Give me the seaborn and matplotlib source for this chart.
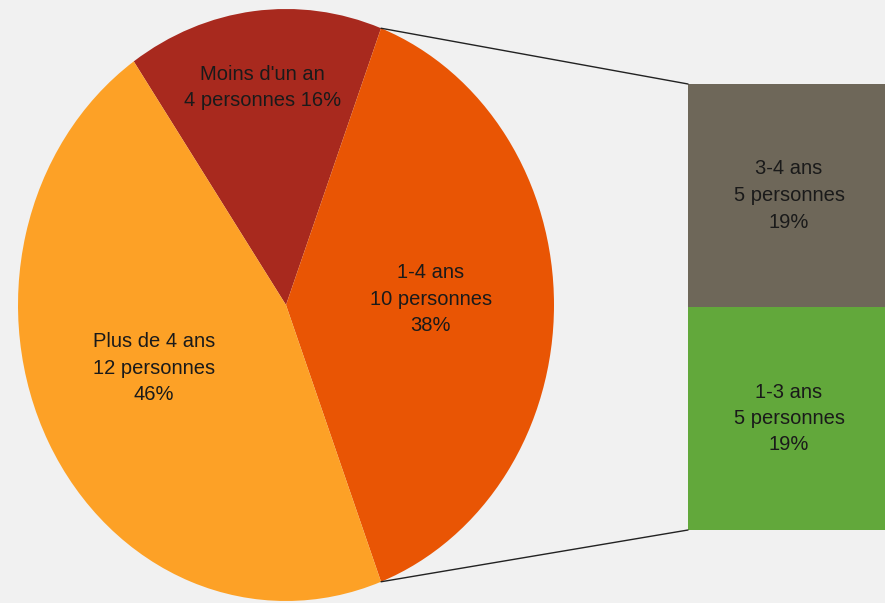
import numpy as np
import seaborn as sns
import matplotlib.pyplot as plt
from matplotlib.patches import ConnectionPatch

# pie data (people per duration)
pie_labels = ["Moins d'un an", "1-4 ans", "Plus de 4 ans"]
pie_counts = [4, 10, 12]
pie_pcts = [16, 38, 46]

# breakdown of the "1-4 ans" slice, bottom to top
bar_labels = ["1-3 ans", "3-4 ans"]
bar_counts = [5, 5]
bar_pcts = [19, 19]

pie_colors = ['#a8291e', '#e95504', '#fda126']
bar_colors = ['#62a83b', '#6e6759']
bg = '#f1f1f1'

sns.set_theme(style='white')
plt.rcParams['font.family'] = ['Liberation Sans', 'DejaVu Sans']

W, H = 885, 603
fig = plt.figure(figsize=(W / 100, H / 100), dpi=100)
fig.set_facecolor(bg)

# elliptical pie: axes not square, aspect auto
ax_pie = fig.add_axes([18 / W, 2 / H, 536 / W, 592 / H])
total = sum(pie_counts)
start = (pie_counts[0] + pie_counts[1] / 2) / total * 360
wedges, _ = ax_pie.pie(pie_counts, colors=pie_colors, startangle=start,
                       counterclock=False, radius=1,
                       wedgeprops=dict(linewidth=0))
ax_pie.set_aspect('auto')
ax_pie.set_xlim(-1, 1)
ax_pie.set_ylim(-1, 1)
ax_pie.axis('off')

txt = dict(ha='center', va='center', fontsize=14.5, color='#1a1a1a', linespacing=1.5)

# label placement: distance from centre along the mid angle, plus a small nudge
label_r = [0.74, 0.54, 0.54]
nudge = [(0, 0), (0, 0.02), (-0.015, 0.037)]
seps = [' ', '\n', '\n']
for w, lab, n, p, r, (dx, dy), sep in zip(wedges, pie_labels, pie_counts, pie_pcts,
                                          label_r, nudge, seps):
    mid = np.deg2rad((w.theta1 + w.theta2) / 2)
    ax_pie.text(r * np.cos(mid) + dx, r * np.sin(mid) + dy,
                f"{lab}\n{n} personnes{sep}{p}%", **txt)

# stacked bar of the split slice
ax_bar = fig.add_axes([688 / W, (H - 530) / H, 202 / W, 446 / H])
bottom = 0
for lab, n, p, c in zip(bar_labels, bar_counts, bar_pcts, bar_colors):
    ax_bar.bar(0.5, n, width=1, bottom=bottom, color=c, linewidth=0)
    ax_bar.text(0.5, bottom + n / 2, f"{lab}\n{n} personnes\n{p}%", **txt)
    bottom += n
ax_bar.set_xlim(0, 1)
ax_bar.set_ylim(0, sum(bar_counts))
ax_bar.axis('off')

# connector lines from the split slice edges to the bar corners
split = wedges[1]
for ang, yb in [(split.theta2, sum(bar_counts)), (split.theta1, 0)]:
    a = np.deg2rad(ang)
    con = ConnectionPatch(xyA=(np.cos(a), np.sin(a)), coordsA=ax_pie.transData,
                          xyB=(0, yb), coordsB=ax_bar.transData,
                          color='#222222', lw=1)
    fig.add_artist(con)

fig.savefig('out.png', dpi=100, facecolor=bg)
